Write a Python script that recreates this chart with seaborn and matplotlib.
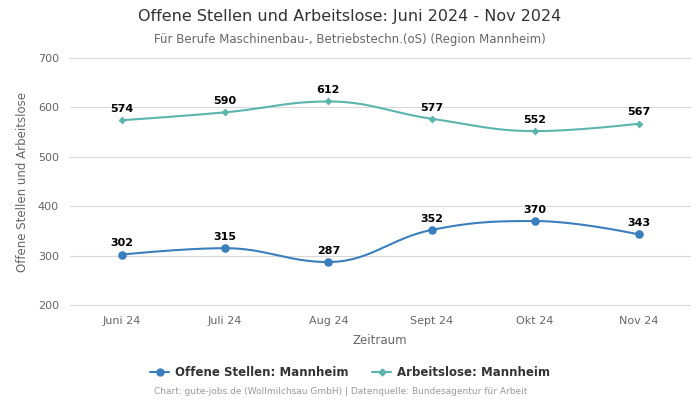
import numpy as np
import pandas as pd
import matplotlib
matplotlib.use("Agg")
import matplotlib.pyplot as plt
import seaborn as sns

# Daten
monate = ["Juni 24", "Juli 24", "Aug 24", "Sept 24", "Okt 24", "Nov 24"]
offene_stellen = [302, 315, 287, 352, 370, 343]
arbeitslose = [574, 590, 612, 577, 552, 567]

blau = "#3a7fbd"
tuerkis = "#5bb5ad"


def spline(xs, ys, n=40):
    # Glaettung wie bei Highcharts "spline" (Bezier mit Kontrollpunkten)
    k = len(xs)
    lc = [None] * k
    rc = [None] * k
    for i in range(1, k - 1):
        px, py, x, y, nx, ny = xs[i-1], ys[i-1], xs[i], ys[i], xs[i+1], ys[i+1]
        lx, ly = (1.5*x + px)/2.5, (1.5*y + py)/2.5
        rx, ry = (1.5*x + nx)/2.5, (1.5*y + ny)/2.5
        corr = ((ry - ly)*(rx - x))/(rx - lx) + y - ry
        ly += corr; ry += corr
        if ly > py and ly > y:
            ly = max(py, y); ry = 2*y - ly
        elif ly < py and ly < y:
            ly = min(py, y); ry = 2*y - ly
        if ry > ny and ry > y:
            ry = max(ny, y); ly = 2*y - ry
        elif ry < ny and ry < y:
            ry = min(ny, y); ly = 2*y - ry
        lc[i] = (lx, ly); rc[i] = (rx, ry)
    outx, outy = [], []
    t = np.linspace(0, 1, n)
    for i in range(k - 1):
        p0 = (xs[i], ys[i])
        p1 = rc[i] if rc[i] else p0
        p3 = (xs[i+1], ys[i+1])
        p2 = lc[i+1] if lc[i+1] else p3
        bx = (1-t)**3*p0[0] + 3*(1-t)**2*t*p1[0] + 3*(1-t)*t**2*p2[0] + t**3*p3[0]
        by = (1-t)**3*p0[1] + 3*(1-t)**2*t*p1[1] + 3*(1-t)*t**2*p2[1] + t**3*p3[1]
        outx.extend(bx); outy.extend(by)
    return outx, outy


sns.set_theme(style="whitegrid")
plt.rcParams['font.family'] = ['DejaVu Sans']

fig = plt.figure(figsize=(7, 4), dpi=100)
ax = fig.add_axes([0.1, 0.2375, 0.886, 0.6175])

pos = list(range(len(monate)))
df = pd.DataFrame({"pos": pos, "Offene Stellen": offene_stellen, "Arbeitslose": arbeitslose})

for col, farbe, marker, ms in [("Offene Stellen", blau, "o", 38), ("Arbeitslose", tuerkis, "D", 16)]:
    sx, sy = spline(df["pos"].tolist(), df[col].tolist())
    sns.lineplot(x=sx, y=sy, ax=ax, color=farbe, linewidth=1.5, sort=False, estimator=None)
    sns.scatterplot(data=df, x="pos", y=col, ax=ax, color=farbe, marker=marker, s=ms,
                    edgecolor=farbe, linewidth=0, zorder=3)
    for p, v in zip(pos, df[col]):
        ax.annotate(str(v), (p, v), xytext=(0, 4.5), textcoords="offset points",
                    ha="center", va="bottom", fontsize=8, fontweight="bold", color="black")

ax.set_xlim(-0.5, 5.5)
ax.set_ylim(200, 700)
ax.set_yticks([200, 300, 400, 500, 600, 700])
ax.set_xticks(pos)
ax.set_xticklabels(monate)
ax.tick_params(axis="both", labelsize=8, colors="#666666", length=0, pad=8)
ax.grid(axis="x", visible=False)
ax.grid(axis="y", color="#d8d8d8", linewidth=0.8)
for gl in ax.get_ygridlines():
    gl.set_clip_on(False)
for s in ax.spines.values():
    s.set_visible(False)
ax.set_xlabel("Zeitraum", fontsize=8.5, color="#666666", labelpad=6)
ax.set_ylabel("Offene Stellen und Arbeitslose", fontsize=8.5, color="#666666", labelpad=6)

fig.text(0.5, 0.958, "Offene Stellen und Arbeitslose: Juni 2024 - Nov 2024",
         ha="center", va="center", fontsize=11.5, color="#333333")
fig.text(0.5, 0.902, "Für Berufe Maschinenbau-, Betriebstechn.(oS) (Region Mannheim)",
         ha="center", va="center", fontsize=8.5, color="#666666")

handles = [
    plt.Line2D([], [], color=blau, marker="o", markersize=5, linewidth=1.5),
    plt.Line2D([], [], color=tuerkis, marker="D", markersize=3.5, linewidth=1.5),
]
leg = fig.legend(handles, ["Offene Stellen: Mannheim", "Arbeitslose: Mannheim"],
                 loc="center", bbox_to_anchor=(0.5, 0.068), ncol=2, frameon=False,
                 prop={"size": 8.5, "weight": "bold"}, handlelength=1.6, columnspacing=2.0,
                 handletextpad=0.5)
for t in leg.get_texts():
    t.set_color("#333333")

fig.text(0.487, 0.02, "Chart: gute-jobs.de (Wollmilchsau GmbH) | Datenquelle: Bundesagentur für Arbeit",
         ha="center", va="center", fontsize=6.5, color="#999999")

fig.savefig("out.png", dpi=100)
